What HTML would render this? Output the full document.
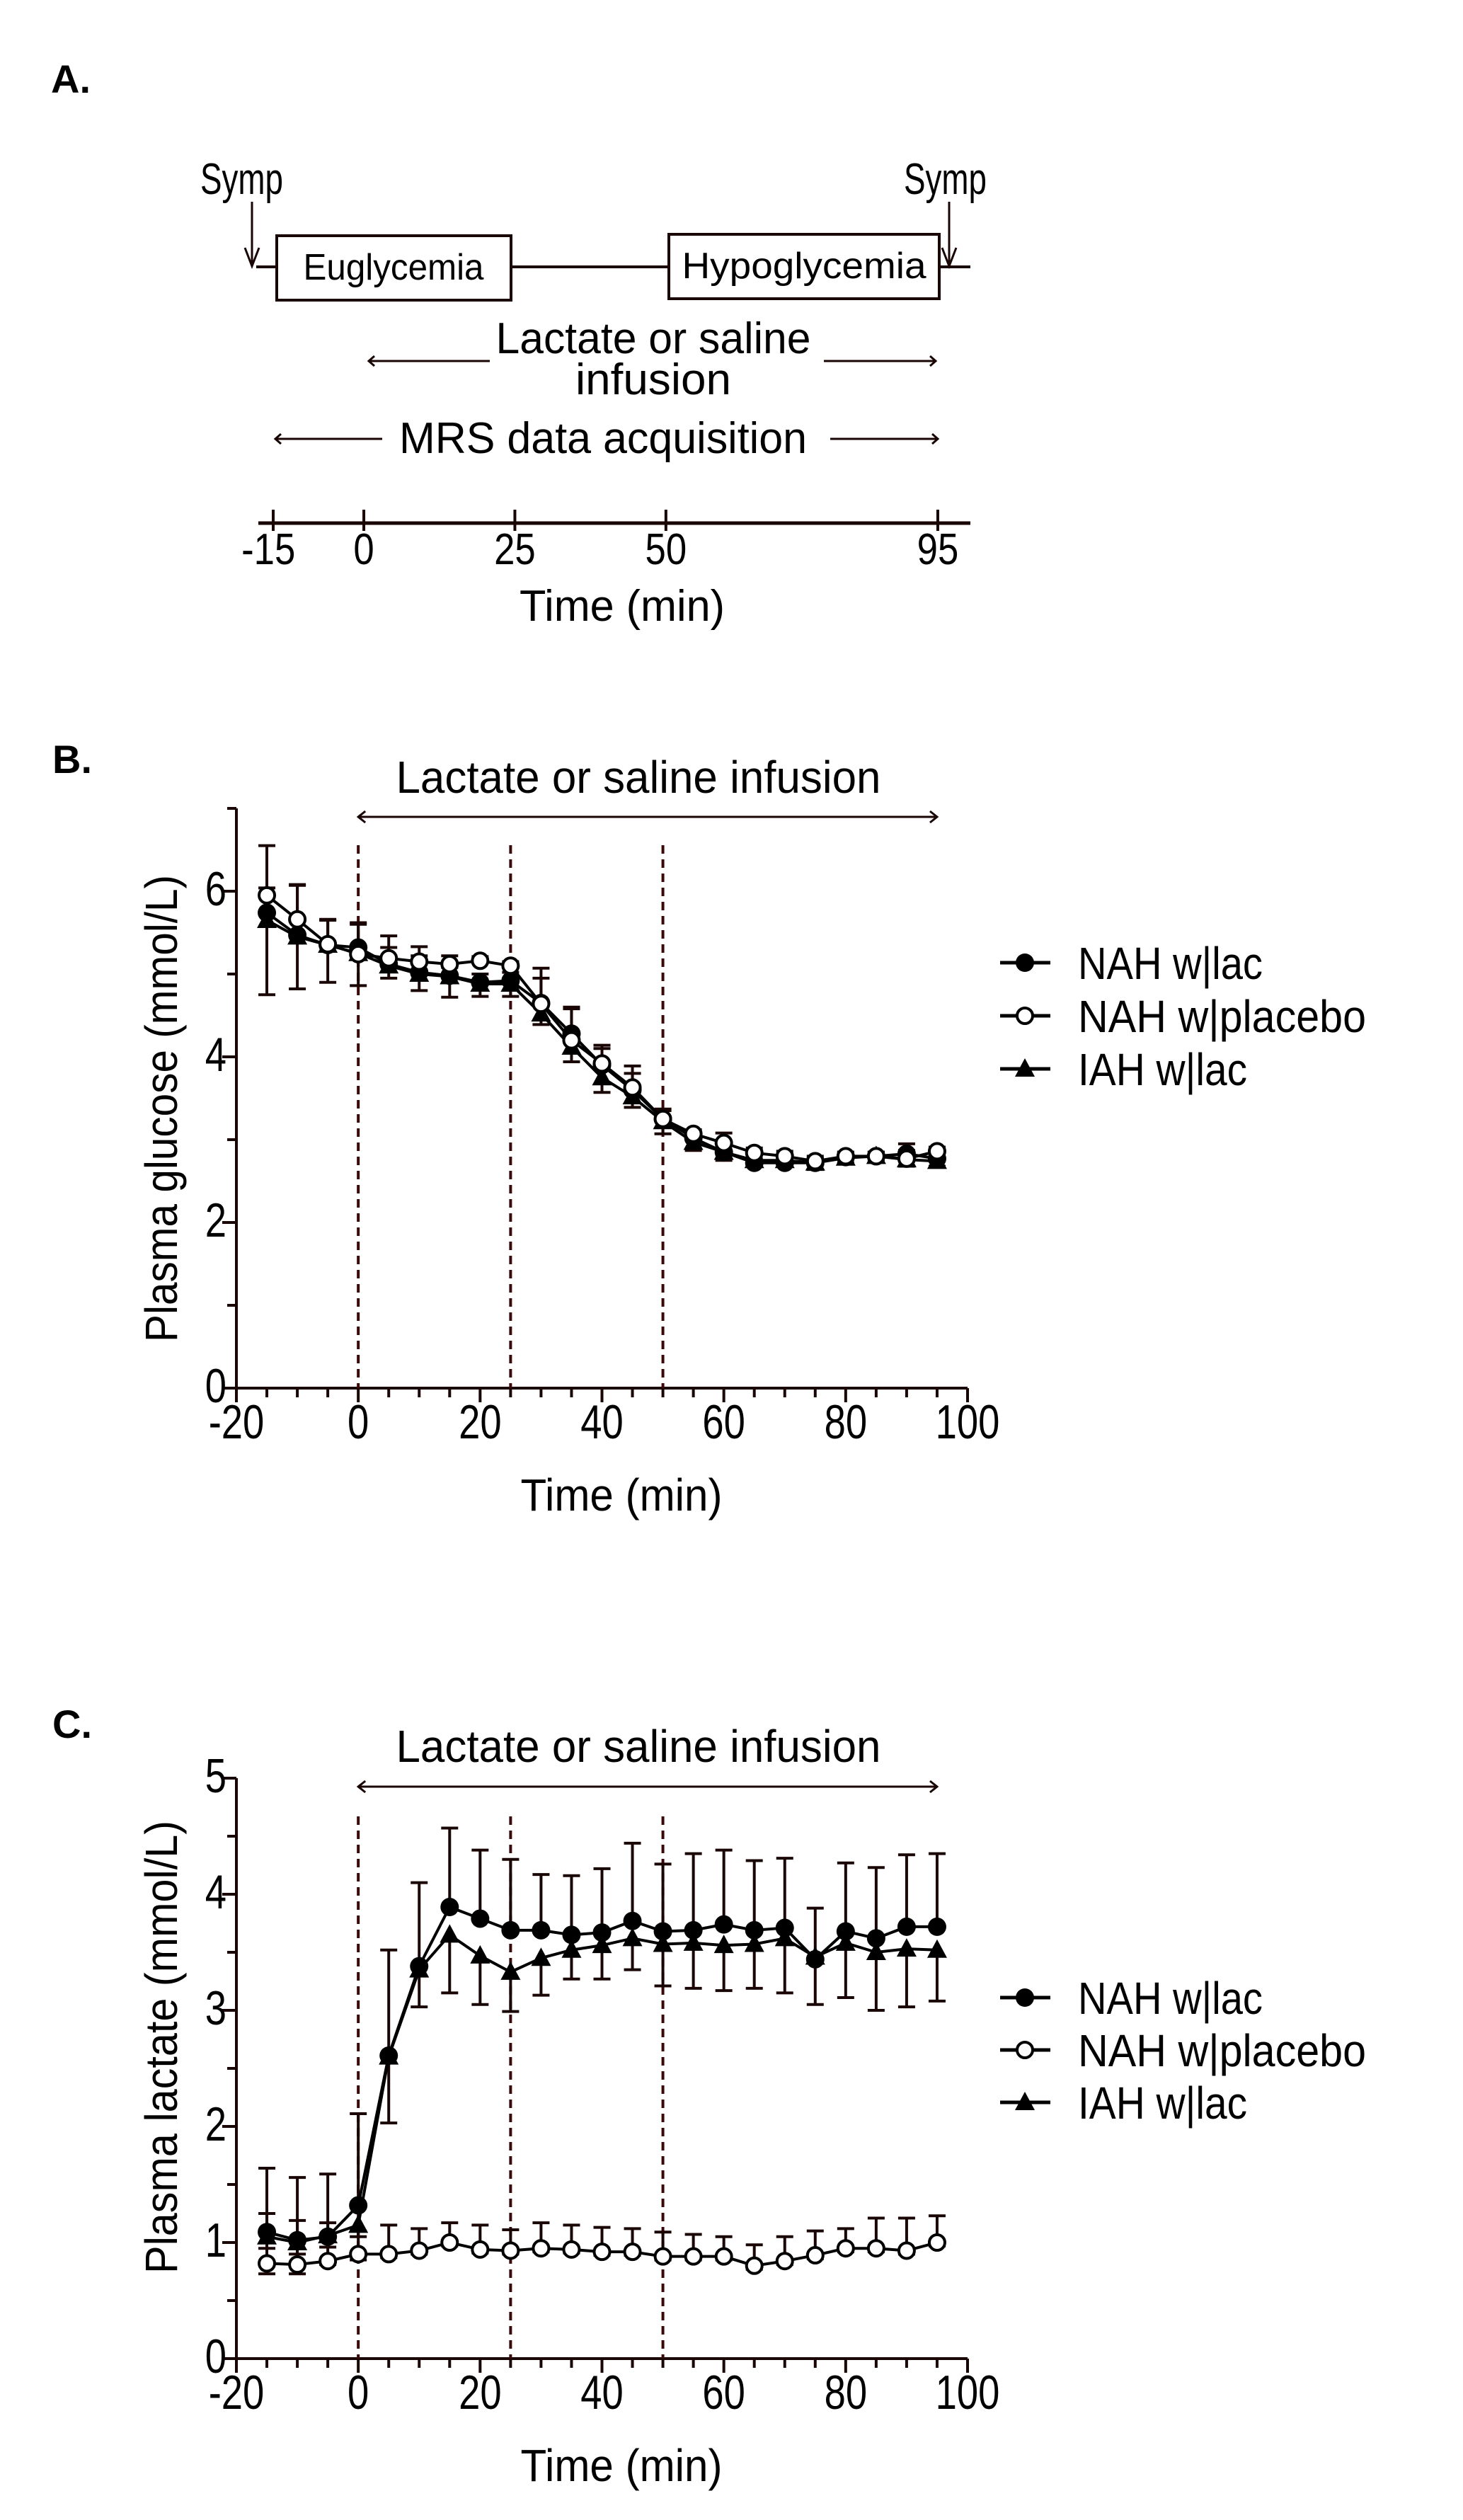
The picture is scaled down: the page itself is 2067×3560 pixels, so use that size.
<!DOCTYPE html>
<html><head><meta charset="utf-8"><style>
html,body{margin:0;padding:0;background:#fff}
svg{display:block}
text{font-family:"Liberation Sans",sans-serif;fill:#000}
</style></head><body>
<svg id="fig" width="2067" height="3560" viewBox="0 0 2067 3560" xmlns="http://www.w3.org/2000/svg">
<g id="panelA" stroke="#1a0505" fill="none">
  <text x="72" y="131" font-size="56" font-weight="bold" stroke="none">A.</text>
  <text x="283" y="274" font-size="62" stroke="none" textLength="117" lengthAdjust="spacingAndGlyphs">Symp</text>
  <text x="1277" y="274" font-size="62" stroke="none" textLength="117" lengthAdjust="spacingAndGlyphs">Symp</text>
  <line x1="362" y1="377" x2="1371" y2="377" stroke-width="4"/>
  <line x1="356" y1="285" x2="356" y2="372" stroke-width="3"/>
  <path d="M346 350 L356 376 L366 350" stroke-width="3"/>
  <line x1="1341" y1="285" x2="1341" y2="372" stroke-width="3"/>
  <path d="M1331 350 L1341 376 L1351 350" stroke-width="3"/>
  <rect x="391" y="333" width="331" height="91" fill="#fff" stroke-width="4"/>
  <text x="556" y="395" font-size="52" stroke="none" text-anchor="middle" textLength="255" lengthAdjust="spacingAndGlyphs">Euglycemia</text>
  <rect x="945" y="331" width="382" height="91" fill="#fff" stroke-width="4"/>
  <text x="1136" y="393" font-size="52" stroke="none" text-anchor="middle" textLength="345" lengthAdjust="spacingAndGlyphs">Hypoglycemia</text>
  <text x="923" y="499" font-size="62" stroke="none" text-anchor="middle" textLength="445" lengthAdjust="spacingAndGlyphs">Lactate or saline</text>
  <text x="923" y="557" font-size="62" stroke="none" text-anchor="middle" textLength="220" lengthAdjust="spacingAndGlyphs">infusion</text>
  <line x1="521" y1="510" x2="692" y2="510" stroke-width="3"/>
  <path d="M529 503 L521 510 L529 517" stroke-width="3"/>
  <line x1="1164" y1="510" x2="1322" y2="510" stroke-width="3"/>
  <path d="M1314 503 L1322 510 L1314 517" stroke-width="3"/>
  <text x="852" y="640" font-size="62" stroke="none" text-anchor="middle" textLength="576" lengthAdjust="spacingAndGlyphs">MRS data acquisition</text>
  <line x1="389" y1="620" x2="540" y2="620" stroke-width="3"/>
  <path d="M397 613 L389 620 L397 627" stroke-width="3"/>
  <line x1="1173" y1="620" x2="1325" y2="620" stroke-width="3"/>
  <path d="M1317 613 L1325 620 L1317 627" stroke-width="3"/>
  <line x1="365" y1="739" x2="1371" y2="739" stroke-width="5"/>
  <g id="timelineTicks"></g>
  <text x="879" y="877" font-size="62" stroke="none" text-anchor="middle" textLength="290" lengthAdjust="spacingAndGlyphs">Time (min)</text>
</g>
<g id="chartB"></g>
<g id="chartC"></g>
</svg>
<script>
const NS = "http://www.w3.org/2000/svg";
const timelineTimes = [-15, 0, 25, 50, 95];
const times = [-15,-10,-5,0,5,10,15,20,25,30,35,40,45,50,55,60,65,70,75,80,85,90,95];
const xTickLabels = [-20,0,20,40,60,80,100];
const phaseLines = [0,25,50];
const seriesNames = ["NAH w|lac","NAH w|placebo","IAH w|lac"];

const glucoseLac = [5.74,5.47,5.35,5.32,5.12,5.02,4.98,4.9,4.92,4.65,4.28,3.9,3.6,3.25,3.02,2.85,2.72,2.72,2.72,2.79,2.8,2.83,2.77];
const glucosePlacebo = [5.95,5.66,5.36,5.24,5.19,5.15,5.12,5.16,5.1,4.64,4.2,3.92,3.63,3.25,3.07,2.96,2.84,2.8,2.74,2.8,2.8,2.77,2.86];
const glucoseIAH = [5.65,5.45,5.35,5.25,5.1,5.0,4.97,4.88,4.88,4.52,4.12,3.75,3.52,3.22,2.97,2.85,2.75,2.75,2.72,2.78,2.8,2.76,2.74];
const glucosePlaceboErrUp = [0.6,0.42,0.3,0.36,0.27,0.18,0.1,0.05,0.05,0.43,0.4,0.22,0.26,0.12,0.05,0.12,0.06,0.06,0.06,0.05,0.05,0.1,0.05];
const glucoseLacErrUp = [0.3,0.6,0.3,0.3,0.2,0.2,0.1,0.1,0.1,0.3,0.3,0.2,0.2,0.1,0.08,0.1,0.05,0.05,0.05,0.05,0.05,0.12,0.05];
const glucoseIAHErrDown = [0.9,0.63,0.45,0.39,0.15,0.2,0.25,0.15,0.15,0.13,0.18,0.18,0.13,0.15,0.1,0.1,0.06,0.06,0.08,0.06,0.06,0.08,0.06];
const glucoseYTicks = [0,2,4,6];

const lactateLac = [1.09,1.02,1.05,1.32,2.61,3.38,3.89,3.79,3.69,3.69,3.65,3.67,3.77,3.68,3.69,3.74,3.69,3.71,3.44,3.68,3.62,3.72,3.72];
const lactateLacErrUp = [0.55,0.54,0.54,0.79,0.91,0.72,0.68,0.59,0.61,0.48,0.51,0.55,0.67,0.58,0.66,0.64,0.6,0.6,0.44,0.59,0.61,0.62,0.63];
const lactateIAH = [1.05,1.0,1.06,1.15,2.6,3.35,3.65,3.47,3.33,3.45,3.52,3.56,3.62,3.57,3.58,3.56,3.57,3.62,3.46,3.58,3.5,3.53,3.52];
const lactateIAHErrDown = [0.1,0.1,0.1,0.1,0.57,0.32,0.5,0.42,0.34,0.32,0.25,0.29,0.27,0.36,0.39,0.39,0.38,0.47,0.41,0.47,0.5,0.5,0.44];
const lactatePlacebo = [0.82,0.81,0.84,0.9,0.9,0.93,1.0,0.94,0.93,0.95,0.94,0.92,0.92,0.88,0.88,0.88,0.8,0.84,0.89,0.95,0.95,0.93,1.0];
const lactatePlaceboErrUp = [0.43,0.38,0.33,0.2,0.25,0.19,0.17,0.21,0.18,0.22,0.21,0.21,0.2,0.21,0.19,0.17,0.18,0.21,0.21,0.17,0.26,0.28,0.23];
const lactatePlaceboErrDown = [0.09,0.08,0.03,0.05,0.03,0.03,0.03,0.03,0.03,0.03,0.03,0.03,0.03,0.03,0.03,0.03,0.03,0.03,0.03,0.03,0.03,0.03,0.03];
const lactateYTicks = [0,1,2,3,4,5];

function mk(tag, attrs, parent){const e=document.createElementNS(NS,tag);for(const k in attrs)e.setAttribute(k,attrs[k]);parent.appendChild(e);return e;}

const tl = document.getElementById('timelineTicks');
const tx = t => 386 + (t + 15) * 8.536;
timelineTimes.forEach(t=>{
  const l=mk('line',{x1:tx(t),x2:tx(t),y1:720,y2:750,'stroke-width':4},tl);
  
  
  const s=mk('text',{x:tx(t)+(t===-15?-8:0),y:797,'font-size':62,'text-anchor':'middle',stroke:'none',transform:`translate(${tx(t)} 0) scale(0.85 1) translate(${-tx(t)} 0)`},tl);
  s.textContent=t;
  
  
});

function drawChart(cfg){
  const g=document.getElementById(cfg.id);
  const x0=334,x1=1367;
  const xs=v=>x0+(v+20)/120*(x1-x0);
  const ys=v=>cfg.y0-(v/cfg.ymax)*(cfg.y0-cfg.ytop);
  const col='#1a0505';
  const pl=mk('text',{x:74,y:cfg.labelY,'font-size':56,'font-weight':'bold'},g);pl.textContent=cfg.label;
  
  
  const tt=mk('text',{x:902,y:cfg.titleY,'font-size':64,'text-anchor':'middle',textLength:685,lengthAdjust:'spacingAndGlyphs'},g);tt.textContent='Lactate or saline infusion';
  
  
  const ar=mk('path',{d:`M${xs(0)} ${cfg.arrowY} L${xs(95)} ${cfg.arrowY} M${xs(0)+10} ${cfg.arrowY-8} L${xs(0)} ${cfg.arrowY} L${xs(0)+10} ${cfg.arrowY+8} M${xs(95)-10} ${cfg.arrowY-8} L${xs(95)} ${cfg.arrowY} L${xs(95)-10} ${cfg.arrowY+8}`,stroke:col,'stroke-width':3,fill:'none'},g);
  
  
  const ya=mk('line',{x1:x0,x2:x0,y1:cfg.ytop,y2:cfg.y0+2,stroke:col,'stroke-width':4},g);
  
  
  const xa=mk('line',{x1:x0-2,x2:x1,y1:cfg.y0,y2:cfg.y0,stroke:col,'stroke-width':4},g);
  
  
  for(let v=-20;v<=100;v+=5){
    const t=mk('line',{x1:xs(v),x2:xs(v),y1:cfg.y0,y2:cfg.y0+(v%20===0?20:13),stroke:col,'stroke-width':4},g);
    
    
  }
  xTickLabels.forEach(v=>{
    const t=mk('text',{x:0,y:0,'font-size':68,'text-anchor':'middle',transform:`translate(${xs(v)} ${cfg.y0+71}) scale(0.8 1)`},g);t.textContent=v;
    
    
  });
  for(let v=0;v<=cfg.ymax+1e-9;v+=cfg.minor){
    const major=Math.abs(v/cfg.major-Math.round(v/cfg.major))<1e-6;
    const t=mk('line',{x1:x0-(major?20:13),x2:x0,y1:ys(v),y2:ys(v),stroke:col,'stroke-width':4},g);
    
    
  }
  cfg.yticks.forEach(v=>{
    const t=mk('text',{x:0,y:0,'font-size':68,'text-anchor':'end',transform:`translate(${x0-14} ${ys(v)+20}) scale(0.8 1)`},g);t.textContent=v;
    
    
  });
  const xt=mk('text',{x:878,y:cfg.y0+173,'font-size':64,'text-anchor':'middle',textLength:285,lengthAdjust:'spacingAndGlyphs'},g);xt.textContent='Time (min)';
  
  
  const yt=mk('text',{x:0,y:0,'font-size':64,'text-anchor':'middle',textLength:cfg.ytLen,lengthAdjust:'spacingAndGlyphs',transform:`translate(250 ${cfg.ytMid}) rotate(-90)`},g);yt.textContent=cfg.ytitle;
  
  
  phaseLines.forEach(v=>{
    const d=mk('line',{x1:xs(v),x2:xs(v),y1:cfg.dashTop,y2:cfg.y0,stroke:'#3a0808','stroke-width':4,'stroke-dasharray':'12 8'},g);
    
    
  });
  function ebars(vals,err,dir,name){
    vals.forEach((v,i)=>{
      if(!err[i])return;
      const e=v+dir*err[i];
      const b=mk('path',{d:`M${xs(times[i])} ${ys(v)} L${xs(times[i])} ${ys(e)} M${xs(times[i])-12} ${ys(e)} L${xs(times[i])+12} ${ys(e)}`,stroke:col,'stroke-width':4,fill:'none'},g);
      
      
    });
  }
  cfg.errs.forEach(e=>ebars(e[0],e[1],e[2],e[3]));
  function series(vals,type,name){
    const p=mk('polyline',{points:vals.map((v,i)=>xs(times[i])+','+ys(v)).join(' '),stroke:'#000','stroke-width':4,fill:'none'},g);
    
    
    vals.forEach((v,i)=>{
      const m=marker(g,xs(times[i]),ys(v),type);
      
      
    });
  }
  series(cfg.s[0],'filled','nah-lac');
  series(cfg.s[2],'tri','iah-lac');
  series(cfg.s[1],'open','nah-placebo');
  const types=['filled','open','tri'];
  seriesNames.forEach((n,i)=>{
    const y=cfg.legY+i*cfg.legStep;
    const lg=mk('g',{},g);
    
    
    mk('line',{x1:1413,x2:1484,y1:y,y2:y,stroke:'#000','stroke-width':5},lg);
    marker(lg,1448,y,types[i]);
    const t=mk('text',{x:1523,y:y+23,'font-size':64,textLength:[261,407,239][i],lengthAdjust:'spacingAndGlyphs'},lg);t.textContent=n;
  });
}
function marker(parent,x,y,type){
  if(type==='filled')return mk('circle',{cx:x,cy:y,r:13,fill:'#000'},parent);
  if(type==='open')return mk('circle',{cx:x,cy:y,r:11,fill:'#fff',stroke:'#000','stroke-width':4},parent);
  return mk('path',{d:`M${x} ${y-15} L${x+14} ${y+11} L${x-14} ${y+11} Z`,fill:'#000'},parent);
}
drawChart({id:'chartB',label:'B.',labelY:1092,titleY:1120,arrowY:1154,dashTop:1194,y0:1961,ytop:1142,ymax:7,minor:1,major:2,yticks:glucoseYTicks,
  ytitle:'Plasma glucose (mmol/L)',ytLen:660,ytMid:1566,legY:1360,legStep:75,
  s:[glucoseLac,glucosePlacebo,glucoseIAH],
  errs:[[glucosePlacebo,glucosePlaceboErrUp,1,'nah-placebo-error'],[glucoseLac,glucoseLacErrUp,1,'nah-lac-error'],[glucoseIAH,glucoseIAHErrDown,-1,'iah-lac-error']]});
drawChart({id:'chartC',label:'C.',labelY:2455,titleY:2489,arrowY:2524,dashTop:2566,y0:3332,ytop:2512,ymax:5,minor:0.5,major:1,yticks:lactateYTicks,
  ytitle:'Plasma lactate (mmol/L)',ytLen:640,ytMid:2892,legY:2822,legStep:74,
  s:[lactateLac,lactatePlacebo,lactateIAH],
  errs:[[lactateLac,lactateLacErrUp,1,'nah-lac-error'],[lactateIAH,lactateIAHErrDown,-1,'iah-lac-error'],[lactatePlacebo,lactatePlaceboErrUp,1,'nah-placebo-error'],[lactatePlacebo,lactatePlaceboErrDown,-1,'nah-placebo-error']]});
</script>
</body></html>
